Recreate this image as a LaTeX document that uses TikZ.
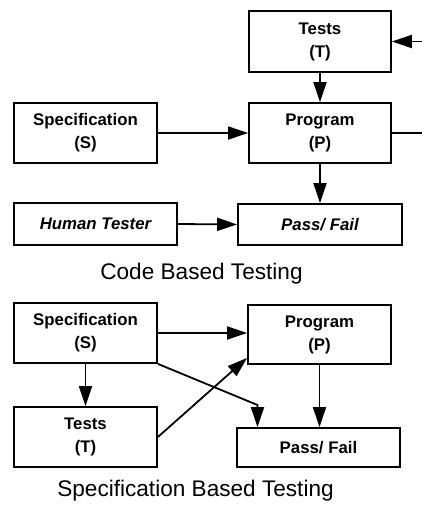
\documentclass[tikz,border=0pt]{standalone}
\usepackage{fontspec}
\setmainfont{Liberation Sans}
\usetikzlibrary{arrows.meta}

\tikzset{
  box/.style={draw, line width=1.8pt, align=center, inner sep=0pt,
    font=\bfseries\fontsize{16.8}{23}\selectfont},
  slanted/.style={font=\bfseries\itshape\fontsize{16.8}{23}\selectfont},
  arr/.style={line width=1.8pt, -{Triangle[length=20pt,width=13pt]}},
  caption/.style={font=\fontsize{22.6}{27}\selectfont, inner sep=0pt}
}

\begin{document}
\begin{tikzpicture}[x=1pt, y=-1pt]
  \useasboundingbox (0,0) rectangle (421,512);

  % ---- code based testing ----
  \node[box, minimum width=142pt, minimum height=61pt] (t1) at (320,41.5) {Tests\\(T)};
  \node[box, minimum width=142pt, minimum height=60pt] (p1) at (320,133) {Program\\(P)};
  \node[box, minimum width=143pt, minimum height=60pt] (s1) at (85.5,133) {Specification\\(S)};
  \node[box, slanted, minimum width=163pt, minimum height=42pt] (h1) at (95.5,224) {Human Tester};
  \node[box, slanted, minimum width=164pt, minimum height=41pt] (f1) at (320,224.5) {Pass/ Fail};
  \node[caption] (c1) at (201.5,274) {Code Based Testing};

  \draw[arr] (t1.south) -- (p1.north);
  \draw[arr] (p1.south) -- (f1.north);
  \draw[arr] (s1.east) -- (p1.west);
  \draw[arr] (h1.east) -- (f1.west);
  \draw[arr] (p1.east) -- ++(40,0) |- (t1.east);

  % ---- specification based testing ----
  \node[box, minimum width=143pt, minimum height=60pt] (s2) at (85.5,333) {Specification\\(S)};
  \node[box, minimum width=143pt, minimum height=59pt] (p2) at (319.5,334.5) {Program\\(P)};
  \node[box, minimum width=143pt, minimum height=60pt] (t2) at (85.5,437) {Tests\\(T)};
  \node[box, minimum width=163pt, minimum height=39pt] (f2) at (318.5,447.5) {Pass/ Fail};
  \node[caption] (c2) at (195.5,491) {Specification Based Testing};

  % knee of the spec -> pass/fail connector
  \coordinate (knee) at (257.5,405);

  \draw[arr] (s2.east) -- (s2.east -| p2.west);
  \draw[arr] (s2.south) -- (t2.north);
  \draw[arr] (t2.east) -- ([yshift=7pt]p2.south west);
  \draw[arr] (s2.south east) -- (knee) -- (knee |- f2.north);
  \draw[arr] (p2.south) -- (p2.south |- f2.north);
\end{tikzpicture}
\end{document}
